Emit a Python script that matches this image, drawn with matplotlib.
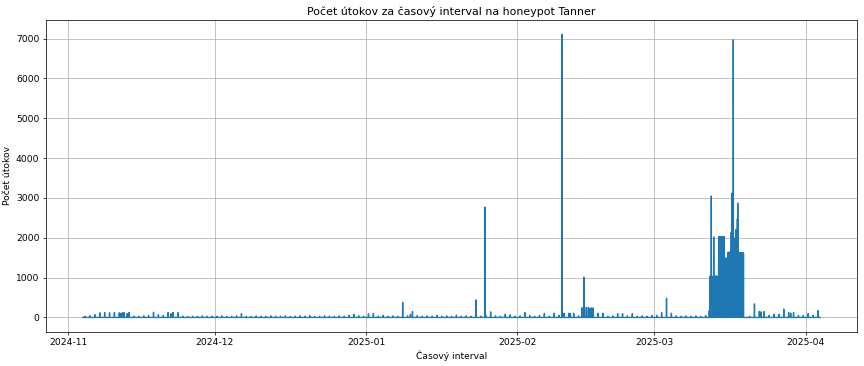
import numpy as np
import pandas as pd
import matplotlib
matplotlib.use('Agg')
import matplotlib.pyplot as plt
import matplotlib.dates as mdates

# hourly counts, Nov 4 2024 .. Apr 3 2025
start = '2024-11-04 00:00'
end = '2025-04-03 23:00'
baseline = 0

# one small daily peak, placed at noon
nov_peaks = [30, 45, 70, 115, 125, 115, 125, 115, 125, 125, 30, 25, 40, 45, 130,
             70, 45, 120, 125, 120, 30, 25, 30, 30, 40, 30, 30]  # Nov 4-30
dec_peaks = [30, 40, 25, 30, 40, 95, 30, 25, 40, 30, 25, 40, 30, 30, 40, 25,
             30, 40, 30, 45, 25, 30, 40, 30, 25, 40, 30, 50, 80, 40, 30]
jan_peaks = [90, 100, 30, 50, 30, 40, 30, 380, 40, 150, 50, 30, 40, 30, 50, 30,
             40, 30, 55, 30, 40, 30, 440, 30, 50, 140, 40, 30, 80, 65, 30]
feb_peaks = [40, 120, 50, 30, 50, 105, 30, 105, 50, 105, 105, 105, 40, 250,
             250, 240, 105, 105, 30, 40, 95, 95, 40, 95, 30, 40, 30, 50]
mar_peaks = [50, 120, 480, 105, 40, 30, 40, 30, 40, 30, 50, 0, 0, 0, 0, 0,
             0, 0, 0, 30, 340, 150, 150, 50, 80, 80, 210, 120, 120, 50, 50]
apr_peaks = [95, 50, 170]

# larger single events
spike_times = ['2024-11-11 20:00', '2024-11-12 03:00', '2024-11-13 03:00',
               '2024-11-22 02:00', '2025-01-10 02:00', '2025-01-25 08:00',
               '2025-01-25 09:00', '2025-02-10 03:00', '2025-02-11 20:00',
               '2025-02-14 04:00', '2025-02-14 14:00', '2025-02-15 02:00',
               '2025-02-15 20:00', '2025-02-16 03:00', '2025-03-12 06:00',
               '2025-03-22 20:00', '2025-03-28 22:00']
spike_values = [105, 115, 95, 95, 80, 2770, 1100, 7110, 95,
                240, 1010, 250, 230, 240, 170,
                140, 110]

# mid-March burst, one value every 2 hours from burst_start
burst_start = '2025-03-12 10:00'
burst_values = [1030, 1020, 1040, 3050, 1030, 1010, 1030, 1020, 1030, 2020,
                1030, 1020, 1040, 1030, 1020, 1030, 1040, 1030, 1020, 1030, 1030,
                2020, 2030, 2020, 2010, 2020, 2030, 1030, 2030, 2020, 2030, 2020,
                2030, 2020, 2030, 2030,
                1480, 1480, 1490, 1480, 1480, 1490, 1480,
                0,
                1630, 1630, 1640, 1630, 1630, 1640, 1630, 1630,
                2140, 1870, 3120, 1970, 1920, 6970, 1970, 1870, 1990, 1920,
                1970, 2070, 2210, 2120, 2170, 2470, 2870, 1670, 1620, 1610,
                1615, 1615, 1620, 1615, 1615, 1620, 1615, 1615, 1620, 1615, 1615]

idx = pd.date_range(start, end, freq='h')
counts = pd.Series(baseline, index=idx, dtype=float)

peaks = nov_peaks + dec_peaks + jan_peaks + feb_peaks + mar_peaks + apr_peaks
days = pd.date_range('2024-11-04', periods=len(peaks), freq='D')
for d, v in zip(days, peaks):
    counts[d + pd.Timedelta(hours=12)] = v

for t, v in zip(spike_times, spike_values):
    counts[pd.Timestamp(t)] = v

burst_idx = pd.date_range(burst_start, periods=len(burst_values), freq='2h')
for t, v in zip(burst_idx, burst_values):
    counts[t] = v

# original looks like a bigger figure shrunk to 864x366, so use a lower dpi
dpi = 66
fig, ax = plt.subplots(figsize=(864 / dpi, 366 / dpi), dpi=dpi)
ax.plot(counts.index, counts.values)
ax.set_title('Počet útokov za časový interval na honeypot Tanner')
ax.set_xlabel('Časový interval')
ax.set_ylabel('Počet útokov')
ax.grid(True)
ax.xaxis.set_major_locator(mdates.MonthLocator())
ax.xaxis.set_major_formatter(mdates.DateFormatter('%Y-%m'))
fig.subplots_adjust(left=0.053, right=0.992, top=0.945, bottom=0.094)
plt.savefig('out.png')
